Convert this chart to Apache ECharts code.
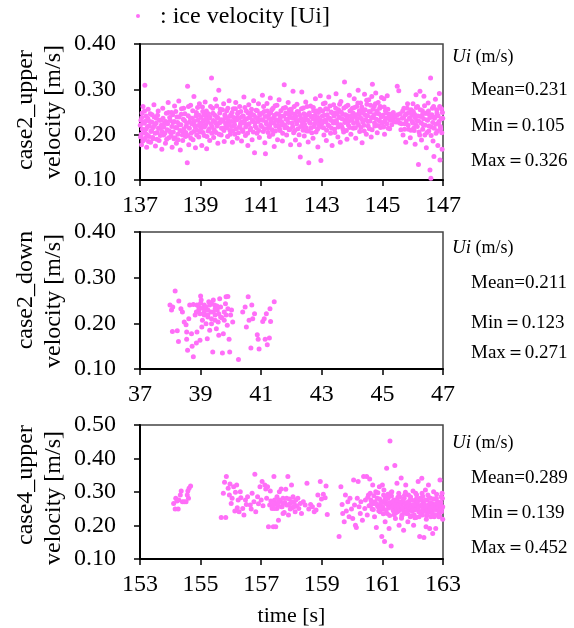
<!DOCTYPE html>
<html>
<head>
<meta charset="utf-8">
<script src="https://cdn.jsdelivr.net/npm/echarts@6/dist/echarts.min.js"></script>
<style>
  html, body { margin: 0; padding: 0; background: #fff; }
  #chart { width: 574px; height: 628px; }
</style>
</head>
<body>
<div id="chart"></div>
<script>
// case2_upper: [time s, velocity m/s]
const upper2 = [
  [137.02,0.195],[137.03,0.232],[137.05,0.178],[137.07,0.248],[137.08,0.212],[137.10,0.262],[137.12,0.188],[137.14,0.225],[137.16,0.309],[137.18,0.203],
  [137.20,0.241],[137.22,0.172],[137.25,0.218],[137.27,0.256],[137.30,0.196],[137.32,0.229],[137.35,0.183],[137.38,0.209],[137.40,0.244],[137.43,0.191],
  [137.46,0.266],[137.48,0.221],[137.51,0.175],[137.54,0.236],[137.57,0.205],[137.60,0.252],[137.63,0.187],[137.66,0.214],[137.69,0.232],[137.72,0.168],
  [137.75,0.258],[137.78,0.199],[137.81,0.226],[137.84,0.181],[137.87,0.247],[137.90,0.211],[137.93,0.271],[137.95,0.193],[137.98,0.238],
  [138.01,0.205],[138.04,0.249],[138.06,0.172],[138.09,0.227],[138.12,0.191],[138.14,0.263],[138.17,0.216],[138.20,0.181],[138.22,0.239],[138.25,0.201],
  [138.28,0.274],[138.30,0.222],[138.33,0.166],[138.36,0.245],[138.39,0.208],[138.41,0.187],[138.44,0.258],[138.47,0.231],[138.50,0.196],[138.53,0.219],
  [138.56,0.138],[138.57,0.307],[138.59,0.242],[138.61,0.178],[138.64,0.228],[138.67,0.265],[138.69,0.203],[138.72,0.236],[138.75,0.189],[138.78,0.284],
  [138.80,0.221],[138.83,0.171],[138.86,0.249],[138.88,0.210],[138.91,0.232],[138.94,0.195],[138.96,0.268],[138.99,0.225],
  [139.02,0.214],[139.04,0.176],[139.07,0.251],[139.09,0.230],[139.12,0.198],[139.15,0.272],[139.17,0.222],[139.20,0.169],[139.22,0.243],[139.25,0.208],
  [139.28,0.236],[139.30,0.187],[139.33,0.262],[139.36,0.325],[139.38,0.218],[139.41,0.247],[139.43,0.194],[139.46,0.229],[139.49,0.278],[139.51,0.205],
  [139.54,0.239],[139.57,0.181],[139.60,0.298],[139.62,0.226],[139.65,0.256],[139.68,0.199],[139.70,0.233],[139.73,0.214],[139.76,0.268],[139.78,0.185],
  [139.81,0.241],[139.84,0.221],[139.86,0.253],[139.89,0.196],[139.92,0.230],[139.94,0.275],[139.97,0.209],
  [140.00,0.244],[140.03,0.218],[140.05,0.183],[140.08,0.257],[140.11,0.229],[140.13,0.201],[140.16,0.271],[140.19,0.236],[140.21,0.192],[140.24,0.249],
  [140.27,0.216],[140.29,0.262],[140.32,0.225],[140.35,0.186],[140.37,0.240],[140.40,0.207],[140.43,0.283],[140.45,0.231],[140.48,0.198],[140.51,0.252],
  [140.53,0.222],[140.56,0.176],[140.59,0.266],[140.61,0.238],[140.64,0.211],[140.67,0.247],[140.70,0.189],[140.72,0.229],[140.75,0.275],[140.78,0.160],
  [140.80,0.219],[140.83,0.254],[140.86,0.203],[140.88,0.236],[140.91,0.268],[140.94,0.194],[140.96,0.244],[140.99,0.221],
  [141.02,0.233],[141.04,0.287],[141.07,0.207],[141.10,0.251],[141.12,0.182],[141.14,0.158],[141.16,0.228],[141.19,0.269],[141.22,0.214],[141.24,0.243],
  [141.27,0.196],[141.30,0.281],[141.32,0.226],[141.35,0.255],[141.38,0.201],[141.40,0.237],[141.43,0.174],[141.46,0.264],[141.48,0.219],[141.51,0.246],
  [141.54,0.189],[141.56,0.230],[141.59,0.277],[141.62,0.209],[141.64,0.241],[141.67,0.222],[141.70,0.186],[141.73,0.258],[141.76,0.310],[141.78,0.215],
  [141.81,0.248],[141.84,0.199],[141.86,0.234],[141.89,0.271],[141.92,0.211],[141.94,0.239],[141.97,0.178],[141.99,0.256],
  [142.02,0.226],[142.05,0.296],[142.07,0.204],[142.10,0.245],[142.13,0.188],[142.15,0.231],[142.18,0.267],[142.21,0.213],[142.23,0.250],[142.26,0.178],
  [142.29,0.151],[142.31,0.237],[142.34,0.294],[142.37,0.219],[142.39,0.259],[142.42,0.197],[142.45,0.233],[142.47,0.272],[142.50,0.208],[142.53,0.244],
  [142.55,0.184],[142.57,0.138],[142.60,0.227],[142.63,0.263],[142.65,0.215],[142.68,0.240],[142.71,0.192],[142.73,0.253],[142.76,0.224],[142.79,0.279],
  [142.81,0.206],[142.84,0.236],[142.87,0.173],[142.89,0.249],[142.92,0.229],[142.95,0.286],[142.97,0.143],[142.99,0.217],
  [143.02,0.241],[143.05,0.268],[143.07,0.199],[143.10,0.232],[143.13,0.257],[143.15,0.187],[143.18,0.244],[143.21,0.221],[143.23,0.283],[143.26,0.236],
  [143.29,0.203],[143.31,0.250],[143.34,0.176],[143.37,0.229],[143.39,0.266],[143.42,0.212],[143.45,0.247],[143.47,0.290],[143.50,0.225],[143.53,0.195],
  [143.55,0.255],[143.58,0.238],[143.61,0.183],[143.63,0.273],[143.66,0.218],[143.69,0.245],[143.72,0.206],[143.75,0.316],[143.77,0.233],[143.80,0.262],
  [143.83,0.190],[143.85,0.242],[143.88,0.221],[143.91,0.287],[143.93,0.252],[143.96,0.201],[143.99,0.236],
  [144.01,0.258],[144.04,0.214],[144.07,0.279],[144.09,0.240],[144.12,0.192],[144.15,0.262],[144.17,0.228],[144.20,0.298],[144.23,0.246],[144.25,0.207],
  [144.28,0.270],[144.31,0.235],[144.33,0.182],[144.36,0.254],[144.39,0.221],[144.41,0.289],[144.44,0.243],[144.47,0.201],[144.49,0.267],[144.52,0.229],
  [144.55,0.277],[144.57,0.213],[144.60,0.250],[144.63,0.195],[144.65,0.284],[144.67,0.311],[144.70,0.238],[144.73,0.262],[144.75,0.219],[144.78,0.292],
  [144.81,0.247],[144.83,0.204],[144.86,0.271],[144.89,0.231],[144.91,0.258],[144.94,0.216],[144.97,0.282],[144.99,0.240],
  [145.02,0.227],[145.05,0.279],[145.07,0.201],[145.10,0.253],[145.13,0.236],[145.16,0.286],[145.19,0.214],[145.22,0.245],[145.26,0.232],[145.31,0.222],
  [145.36,0.249],[145.40,0.238],[145.45,0.228],[145.49,0.307],[145.50,0.244],[145.54,0.297],[145.57,0.226],[145.61,0.211],[145.65,0.236],[145.68,0.199],
  [145.71,0.258],[145.74,0.224],[145.77,0.183],[145.80,0.246],[145.83,0.268],[145.86,0.212],[145.89,0.237],[145.92,0.193],[145.95,0.255],[145.98,0.229],
  [146.01,0.268],[146.03,0.214],[146.06,0.245],[146.08,0.179],[146.11,0.288],[146.13,0.231],[146.16,0.262],[146.19,0.134],[146.21,0.206],[146.24,0.296],
  [146.27,0.240],[146.29,0.188],[146.32,0.253],[146.35,0.222],[146.37,0.285],[146.40,0.199],[146.43,0.247],[146.45,0.171],[146.48,0.233],[146.51,0.270],
  [146.53,0.208],[146.55,0.244],[146.57,0.122],[146.59,0.325],[146.60,0.104],[146.62,0.217],[146.65,0.258],[146.67,0.186],[146.70,0.152],[146.72,0.236],
  [146.75,0.278],[146.77,0.203],[146.80,0.248],[146.83,0.176],[146.85,0.226],[146.88,0.291],[146.90,0.144],[146.92,0.213],[146.95,0.257],[146.97,0.168],
  [146.99,0.236],
  // dense core of the band
  [137.01,0.221],[137.04,0.201],[137.06,0.238],[137.09,0.186],[137.11,0.227],[137.13,0.209],[137.15,0.252],[137.17,0.192],[137.19,0.230],[137.21,0.213],
  [137.24,0.199],[137.26,0.236],[137.28,0.185],[137.31,0.219],[137.34,0.246],[137.36,0.207],[137.39,0.228],[137.42,0.194],[137.44,0.216],[137.47,0.239],
  [137.50,0.203],[137.53,0.225],[137.56,0.190],[137.58,0.243],[137.61,0.214],[137.64,0.232],[137.67,0.198],[137.70,0.221],[137.73,0.207],[137.76,0.236],
  [137.79,0.217],[137.82,0.203],[137.85,0.229],[137.88,0.190],[137.91,0.224],[137.94,0.249],[137.97,0.208],
  [138.00,0.231],[138.03,0.197],[138.05,0.218],[138.08,0.244],[138.10,0.206],[138.13,0.229],[138.16,0.193],[138.18,0.251],[138.21,0.215],[138.24,0.227],
  [138.26,0.189],[138.29,0.239],[138.32,0.209],[138.35,0.222],[138.37,0.257],[138.40,0.199],[138.43,0.234],[138.45,0.213],[138.48,0.246],[138.51,0.205],
  [138.54,0.226],[138.58,0.198],[138.60,0.262],[138.63,0.214],[138.66,0.237],[138.68,0.192],[138.71,0.224],[138.74,0.253],[138.77,0.207],[138.79,0.230],
  [138.82,0.217],[138.85,0.241],[138.87,0.199],[138.90,0.260],[138.93,0.220],[138.95,0.243],[138.98,0.206],
  [139.01,0.238],[139.03,0.223],[139.06,0.261],[139.08,0.205],[139.11,0.244],[139.13,0.217],[139.16,0.234],[139.19,0.252],[139.21,0.196],[139.23,0.228],
  [139.26,0.246],[139.29,0.213],[139.31,0.239],[139.34,0.224],[139.37,0.203],[139.40,0.258],[139.42,0.231],[139.45,0.211],[139.47,0.243],[139.50,0.226],
  [139.53,0.263],[139.55,0.219],[139.58,0.236],[139.61,0.201],[139.63,0.248],[139.66,0.228],[139.69,0.214],[139.72,0.255],[139.74,0.232],[139.77,0.209],
  [139.80,0.244],[139.82,0.226],[139.85,0.237],[139.88,0.215],[139.90,0.258],[139.93,0.222],[139.96,0.240],[139.98,0.201],
  [140.01,0.229],[140.04,0.249],[140.07,0.208],[140.09,0.238],[140.12,0.222],[140.15,0.257],[140.17,0.213],[140.20,0.233],[140.22,0.246],[140.25,0.204],
  [140.28,0.236],[140.30,0.219],[140.33,0.251],[140.36,0.228],[140.38,0.211],[140.41,0.241],[140.44,0.226],[140.46,0.260],[140.49,0.217],[140.52,0.235],
  [140.55,0.203],[140.57,0.248],[140.60,0.224],[140.63,0.239],[140.65,0.214],[140.68,0.256],[140.71,0.232],[140.74,0.206],[140.76,0.243],[140.79,0.227],
  [140.82,0.238],[140.84,0.215],[140.87,0.253],[140.90,0.229],[140.92,0.209],[140.95,0.246],[140.98,0.233],
  [141.01,0.218],[141.03,0.247],[141.06,0.232],[141.08,0.262],[141.11,0.213],[141.13,0.240],[141.17,0.224],[141.20,0.252],[141.23,0.205],[141.25,0.236],
  [141.28,0.219],[141.31,0.248],[141.33,0.230],[141.36,0.211],[141.39,0.258],[141.41,0.226],[141.44,0.243],[141.47,0.208],[141.49,0.233],[141.52,0.265],
  [141.55,0.221],[141.57,0.245],[141.60,0.214],[141.63,0.237],[141.65,0.253],[141.68,0.228],[141.71,0.203],[141.74,0.241],[141.77,0.222],[141.80,0.260],
  [141.82,0.234],[141.85,0.216],[141.88,0.246],[141.90,0.227],[141.93,0.255],[141.96,0.212],[141.98,0.238],
  [142.01,0.247],[142.04,0.218],[142.06,0.236],[142.09,0.262],[142.11,0.209],[142.14,0.240],[142.17,0.224],[142.19,0.251],[142.22,0.231],[142.25,0.200],
  [142.27,0.244],[142.30,0.218],[142.33,0.257],[142.35,0.228],[142.38,0.210],[142.41,0.246],[142.43,0.223],[142.46,0.239],[142.49,0.215],[142.51,0.262],
  [142.54,0.232],[142.56,0.208],[142.59,0.248],[142.62,0.225],[142.64,0.240],[142.67,0.204],[142.70,0.235],[142.72,0.260],[142.75,0.218],[142.78,0.243],
  [142.80,0.228],[142.83,0.252],[142.86,0.212],[142.88,0.238],[142.91,0.221],[142.94,0.256],[142.96,0.232],
  [143.01,0.226],[143.03,0.252],[143.06,0.215],[143.09,0.243],[143.11,0.270],[143.14,0.228],[143.16,0.210],[143.19,0.256],[143.22,0.237],[143.24,0.219],
  [143.27,0.263],[143.30,0.232],[143.32,0.214],[143.35,0.248],[143.38,0.226],[143.40,0.241],[143.43,0.205],[143.46,0.258],[143.48,0.231],[143.51,0.246],
  [143.54,0.217],[143.56,0.239],[143.59,0.267],[143.62,0.222],[143.64,0.250],[143.67,0.235],[143.70,0.212],[143.73,0.259],[143.76,0.227],[143.78,0.244],
  [143.81,0.209],[143.84,0.237],[143.86,0.265],[143.89,0.230],[143.92,0.216],[143.94,0.253],[143.97,0.241],
  [144.00,0.232],[144.03,0.248],[144.05,0.225],[144.08,0.260],[144.11,0.215],[144.13,0.244],[144.16,0.235],[144.19,0.270],[144.21,0.222],[144.24,0.253],
  [144.27,0.238],[144.29,0.216],[144.32,0.261],[144.35,0.228],[144.37,0.247],[144.40,0.208],[144.43,0.255],[144.45,0.233],[144.48,0.276],[144.51,0.242],
  [144.53,0.219],[144.56,0.251],[144.59,0.230],[144.61,0.265],[144.64,0.238],[144.66,0.211],[144.69,0.256],[144.72,0.244],[144.74,0.226],[144.77,0.268],
  [144.80,0.234],[144.82,0.252],[144.85,0.220],[144.88,0.246],[144.90,0.231],[144.93,0.262],[144.96,0.240],[144.98,0.225],
  [145.01,0.243],[145.04,0.217],[145.06,0.261],[145.09,0.232],[145.12,0.248],[145.15,0.224],[145.18,0.256],[145.21,0.238],[145.24,0.213],[145.28,0.245],
  [145.33,0.236],[145.38,0.229],[145.43,0.241],[145.52,0.233],[145.59,0.246],[145.63,0.224],[145.67,0.252],[145.70,0.238],[145.73,0.212],[145.76,0.244],
  [145.79,0.230],[145.82,0.258],[145.85,0.221],[145.88,0.249],[145.91,0.235],[145.94,0.210],[145.97,0.243],
  [146.00,0.226],[146.02,0.251],[146.05,0.209],[146.07,0.238],[146.10,0.222],[146.12,0.260],[146.15,0.218],[146.17,0.241],[146.20,0.230],[146.23,0.199],
  [146.25,0.255],[146.28,0.226],[146.31,0.243],[146.33,0.212],[146.36,0.235],[146.39,0.264],[146.41,0.221],[146.44,0.247],[146.47,0.205],[146.49,0.232],
  [146.52,0.252],[146.54,0.219],[146.58,0.238],[146.61,0.198],[146.63,0.244],[146.66,0.227],[146.69,0.262],[146.71,0.214],[146.74,0.239],[146.76,0.223],
  [146.79,0.255],[146.82,0.208],[146.84,0.242],[146.87,0.229],[146.89,0.262],[146.91,0.218],[146.94,0.235],[146.96,0.204],[146.98,0.249]
];

// case2_down
const down2 = [
  [38.16,0.271],[37.99,0.240],[38.04,0.229],[38.08,0.236],[38.28,0.249],[38.35,0.232],[38.07,0.182],[38.23,0.184],[38.27,0.160],[38.40,0.225],
  [38.46,0.203],[38.52,0.197],[38.54,0.181],[38.54,0.165],[38.57,0.141],[38.61,0.210],[38.64,0.240],[38.70,0.177],[38.72,0.150],[38.76,0.127],
  [38.76,0.241],[38.82,0.218],[38.86,0.157],[38.88,0.181],[38.94,0.236],[38.98,0.163],[39.00,0.260],[39.02,0.251],[39.06,0.207],[39.04,0.192],
  [39.12,0.240],[39.16,0.232],[39.18,0.199],[39.22,0.166],[39.24,0.218],[39.27,0.247],[39.30,0.185],[39.34,0.225],[39.36,0.199],[39.40,0.137],
  [39.42,0.251],[39.46,0.240],[39.48,0.218],[39.52,0.188],[39.55,0.229],[39.58,0.203],[39.60,0.174],[39.63,0.254],[39.66,0.236],[39.70,0.212],
  [39.72,0.135],[39.75,0.177],[39.78,0.225],[39.82,0.243],[39.84,0.258],[39.88,0.196],[39.90,0.259],[39.94,0.165],[39.96,0.137],[39.99,0.218],
  [40.02,0.229],[40.06,0.203],[40.25,0.121],[40.39,0.225],[40.47,0.236],[40.51,0.192],[40.57,0.258],[40.60,0.207],[40.66,0.146],[40.69,0.240],
  [40.72,0.210],[40.78,0.221],[40.87,0.175],[40.90,0.165],[40.93,0.144],[41.05,0.204],[41.10,0.210],[41.13,0.165],[41.17,0.221],[41.20,0.153],
  [41.27,0.168],[41.29,0.232],[41.31,0.204],[41.43,0.247],
  [38.88,0.240],[38.94,0.229],[39.00,0.244],[39.06,0.233],[39.12,0.225],[39.18,0.236],[39.24,0.229],[39.30,0.240],[39.36,0.244],[39.42,0.225],
  [39.48,0.232],[39.54,0.238],[39.12,0.218],[39.24,0.214],[39.36,0.210],[39.48,0.207],[39.60,0.221],[39.66,0.214],[39.78,0.207],[39.84,0.218],
  [39.90,0.232],[38.98,0.221],[38.86,0.225]
];

// case4_upper
const upper4 = [
  [154.11,0.266],[154.16,0.249],[154.26,0.249],[154.18,0.281],[154.22,0.273],[154.28,0.276],[154.33,0.291],[154.36,0.303],[154.40,0.271],[154.46,0.271],
  [154.52,0.271],[154.56,0.291],[154.58,0.303],[154.62,0.311],[154.67,0.318],[154.60,0.281],
  [155.68,0.224],[155.75,0.296],[155.79,0.329],[155.85,0.346],[155.83,0.224],[155.91,0.311],[155.95,0.291],[155.97,0.324],[156.01,0.266],[156.04,0.281],
  [156.09,0.316],[156.13,0.243],[156.15,0.299],[156.19,0.321],[156.21,0.253],[156.24,0.276],[156.27,0.241],[156.31,0.301],[156.33,0.283],[156.39,0.251],
  [156.43,0.231],[156.48,0.276],[156.51,0.263],[156.55,0.286],[156.64,0.261],[156.67,0.249],[156.70,0.296],[156.76,0.271],[156.79,0.353],[156.82,0.241],
  [156.88,0.286],[156.91,0.265],[156.96,0.316],[157.00,0.276],[157.03,0.331],[157.06,0.259],
  [157.12,0.321],[157.15,0.309],[157.18,0.281],[157.21,0.316],[157.24,0.196],[157.28,0.261],[157.30,0.303],[157.32,0.273],[157.36,0.251],[157.40,0.196],
  [157.42,0.346],[157.44,0.276],[157.48,0.196],[157.48,0.266],[157.52,0.286],[157.54,0.261],[157.57,0.216],[157.60,0.301],[157.63,0.273],[157.66,0.309],
  [157.69,0.256],[157.72,0.281],[157.76,0.239],[157.78,0.269],[157.81,0.308],[157.84,0.261],[157.88,0.346],[157.90,0.231],[157.93,0.279],[157.96,0.266],
  [158.00,0.321],[158.02,0.253],[158.05,0.286],[158.08,0.269],[158.12,0.241],[158.14,0.276],[158.17,0.259],[158.21,0.281],[158.24,0.251],[158.29,0.266],
  [158.33,0.236],[158.39,0.271],[158.45,0.261],[158.51,0.326],[158.57,0.249],[158.63,0.263],[158.69,0.256],[158.75,0.241],[158.81,0.246],[158.87,0.291],
  [158.91,0.261],[158.95,0.331],[158.99,0.279],[159.05,0.293],[159.11,0.283],[159.14,0.318],[159.18,0.233],
  [157.52,0.251],[157.60,0.276],[157.66,0.256],[157.72,0.266],[157.84,0.281],[157.90,0.261],[157.96,0.249],[158.02,0.271],[158.08,0.256],[157.57,0.269],
  [157.72,0.236],[157.40,0.263],[157.44,0.251],
  [159.57,0.167],[159.63,0.316],[159.67,0.263],[159.69,0.236],[159.74,0.211],[159.78,0.291],[159.81,0.243],[159.86,0.271],[159.90,0.226],[159.93,0.281],
  [159.98,0.249],[160.02,0.221],[160.05,0.336],[160.08,0.261],[160.11,0.201],[160.14,0.194],[160.17,0.281],[160.20,0.331],[160.23,0.256],[160.27,0.236],
  [160.29,0.271],[160.34,0.216],[160.38,0.346],[160.42,0.251],[160.44,0.276],[160.48,0.346],[160.50,0.231],[160.54,0.291],[160.56,0.259],[160.58,0.339],
  [160.62,0.276],[160.66,0.249],[160.68,0.321],[160.71,0.266],[160.74,0.226],[160.78,0.301],[160.80,0.194],[160.83,0.281],[160.86,0.256],[160.90,0.316],
  [160.92,0.241],[160.95,0.271],[160.98,0.167],[161.00,0.321],[161.02,0.249],[161.04,0.291],[161.07,0.152],[161.09,0.211],[161.10,0.266],[161.14,0.371],
  [161.16,0.236],[161.19,0.281],[161.22,0.191],[161.25,0.452],[161.26,0.261],[161.29,0.139],[161.31,0.301],[161.35,0.246],[161.38,0.276],[161.41,0.379],
  [161.43,0.221],[161.45,0.256],[161.48,0.326],[161.50,0.241],[161.53,0.271],[161.55,0.201],[161.57,0.286],[161.60,0.249],[161.62,0.342],[161.65,0.231],
  [161.67,0.266],[161.70,0.186],[161.72,0.281],[161.74,0.254],[161.77,0.321],[161.79,0.236],[161.82,0.269],[161.84,0.211],[161.86,0.291],[161.89,0.251],
  [161.91,0.276],[161.95,0.229],[161.99,0.261],[162.01,0.303],[162.03,0.201],[162.06,0.246],[162.08,0.274],[162.11,0.224],[162.13,0.291],[162.15,0.256],
  [162.18,0.331],[162.20,0.241],[162.23,0.167],[162.25,0.281],[162.28,0.261],[162.30,0.341],[162.32,0.231],[162.35,0.271],[162.37,0.164],[162.40,0.249],
  [162.42,0.306],[162.44,0.196],[162.47,0.276],[162.49,0.236],[162.52,0.321],[162.54,0.256],[162.56,0.191],[162.59,0.281],[162.61,0.244],[162.64,0.266],
  [162.66,0.176],[162.69,0.301],[162.71,0.226],[162.73,0.261],[162.76,0.191],[162.78,0.281],[162.81,0.246],[162.83,0.271],[162.86,0.226],[162.88,0.254],
  [162.90,0.336],[162.93,0.269],[162.95,0.241],[162.98,0.281],[162.99,0.256],
  [160.62,0.262],[160.70,0.248],[160.76,0.271],[160.84,0.258],[160.88,0.244],[160.94,0.265],[161.01,0.255],[161.06,0.273],[161.12,0.247],[161.17,0.262],
  [161.21,0.252],[161.27,0.268],[161.33,0.257],[161.37,0.243],[161.42,0.264],[161.46,0.251],[161.52,0.258],[161.56,0.245],[161.61,0.263],[161.66,0.252],
  [161.71,0.242],[161.75,0.266],[161.80,0.255],[161.85,0.246],[161.90,0.262],[161.94,0.251],[161.98,0.243],[162.04,0.259],[162.09,0.248],[162.14,0.265],
  [162.19,0.254],[162.24,0.242],[162.29,0.258],[162.34,0.249],[162.39,0.263],[162.43,0.253],[162.48,0.245],[162.53,0.261],[162.58,0.252],[162.62,0.240],
  [162.67,0.257],[162.72,0.248],[162.77,0.264],[162.82,0.254],[162.87,0.243],[162.92,0.259],[162.96,0.250],[161.03,0.235],[161.24,0.230],[161.44,0.238],
  [161.64,0.228],[161.83,0.236],[162.05,0.231],[162.26,0.238],[162.46,0.229],[162.65,0.236],[162.85,0.233],[161.09,0.282],[161.30,0.288],[161.51,0.284],
  [161.73,0.290],[161.93,0.285],[162.12,0.279],[162.33,0.287],[162.55,0.283],[162.75,0.278],[162.94,0.286],
  [160.52,0.284],[160.60,0.296],[160.64,0.272],[160.72,0.289],[160.79,0.264],[160.85,0.298],[160.91,0.279],[160.97,0.253],[161.05,0.306],[161.11,0.276],
  [161.18,0.293],[161.23,0.268],[161.28,0.298],[161.34,0.272],[161.39,0.232],[161.47,0.276],[161.54,0.296],[161.59,0.271],[161.63,0.222],[161.69,0.277],
  [161.76,0.299],[161.81,0.242],[161.87,0.271],[161.92,0.226],[161.97,0.276],[162.02,0.262],[162.07,0.223],[162.10,0.296],[162.16,0.271],[162.21,0.226],
  [162.27,0.276],[162.31,0.296],[162.36,0.242],[162.41,0.276],[162.45,0.219],[162.50,0.291],[162.57,0.268],[162.60,0.226],[162.68,0.279],[162.74,0.232],
  [162.79,0.293],[162.84,0.266],[162.89,0.228],[162.97,0.296],[162.99,0.219]
];

const caseNames = ['case2_upper', 'case2_down', 'case4_upper'];
const xRanges = [[137, 147], [37, 47], [153, 163]];
const xTickValues = [
  [137, 139, 141, 143, 145, 147],
  [37, 39, 41, 43, 45, 47],
  [153, 155, 157, 159, 161, 163]
];
const yRanges = [[0.1, 0.4], [0.1, 0.4], [0.1, 0.5]];
const statMean = ['0.231', '0.211', '0.289'];
const statMin = ['0.105', '0.123', '0.139'];
const statMax = ['0.326', '0.271', '0.452'];

const panelData = [upper2, down2, upper4];
const gridTops = [44, 232, 425];
const gridHeights = [136, 137, 134];
const statY = [[57, 90, 126, 161], [248, 283, 323, 353], [443, 478, 513, 548]];
const nameY = [[110, 112], [290, 301], [485, 498]];

const serif = '"Liberation Serif", "Times New Roman", serif';
const pink = '#ff6ef8';

const chart = echarts.init(document.getElementById('chart'));

const grids = [], xAxes = [], yAxes = [], series = [], graphics = [];

for (let i = 0; i < 3; i++) {
  grids.push({
    left: 140, top: gridTops[i], width: 303, height: gridHeights[i],
    show: true, borderColor: '#444', borderWidth: 1.5
  });
  xAxes.push({
    type: 'value', gridIndex: i, min: xRanges[i][0], max: xRanges[i][1],
    axisLine: { show: true, onZero: false, lineStyle: { color: '#000', width: 2 } },
    axisTick: { show: true, inside: false, length: 6, customValues: xTickValues[i], lineStyle: { color: '#000', width: 1.5 } },
    axisLabel: { customValues: xTickValues[i], color: '#000', fontFamily: serif, fontSize: 24, margin: 14 },
    splitLine: { show: false },
    name: i === 2 ? 'time [s]' : '',
    nameLocation: 'middle', nameGap: 46,
    nameTextStyle: { color: '#000', fontFamily: serif, fontSize: 22 }
  });
  yAxes.push({
    type: 'value', gridIndex: i, min: yRanges[i][0], max: yRanges[i][1], interval: 0.1,
    axisLine: { show: true, onZero: false, lineStyle: { color: '#000', width: 2 } },
    axisTick: { show: true, inside: false, length: 6, lineStyle: { color: '#000', width: 1.5 } },
    axisLabel: { color: '#000', fontFamily: serif, fontSize: 24, margin: 24, formatter: v => v.toFixed(2) },
    splitLine: { show: false }
  });
  series.push({
    name: 'ice velocity [Ui]', type: 'scatter', xAxisIndex: i, yAxisIndex: i,
    data: panelData[i], symbolSize: 5,
    itemStyle: { color: pink, opacity: 1 },
    emphasis: { disabled: true }
  });

  // y axis titles (two lines, rotated)
  graphics.push({
    type: 'text', x: 26, y: nameY[i][0], rotation: Math.PI / 2,
    style: { text: caseNames[i], font: '24px ' + serif, fill: '#000', align: 'center', verticalAlign: 'middle' }
  });
  graphics.push({
    type: 'text', x: 54, y: nameY[i][1], rotation: Math.PI / 2,
    style: { text: 'velocity [m/s]', font: '24px ' + serif, fill: '#000', align: 'center', verticalAlign: 'middle' }
  });

  // stats on the right
  graphics.push({
    type: 'text', x: 452, y: statY[i][0],
    style: {
      text: '{it|Ui} (m/s)', fill: '#000', verticalAlign: 'middle', font: '18px ' + serif,
      rich: { it: { fontFamily: serif, fontSize: 19, fontStyle: 'italic', fill: '#000' } }
    }
  });
  graphics.push({
    type: 'text', x: 471, y: statY[i][1],
    style: { text: 'Mean=' + statMean[i], font: '19px ' + serif, fill: '#000', verticalAlign: 'middle' }
  });
  graphics.push({
    type: 'text', x: 471, y: statY[i][2],
    style: { text: 'Min\uFF1D' + statMin[i], font: '19px ' + serif, fill: '#000', verticalAlign: 'middle' }
  });
  graphics.push({
    type: 'text', x: 471, y: statY[i][3],
    style: { text: 'Max\uFF1D' + statMax[i], font: '19px ' + serif, fill: '#000', verticalAlign: 'middle' }
  });
}

// legend marker and label at the top
graphics.push({
  type: 'circle', shape: { cx: 138, cy: 16, r: 2 },
  style: { fill: pink }
});
graphics.push({
  type: 'text', x: 160, y: 17,
  style: { text: ': ice velocity [Ui]', font: '24px ' + serif, fill: '#000', verticalAlign: 'middle' }
});

chart.setOption({
  animation: false,
  backgroundColor: '#fff',
  grid: grids,
  xAxis: xAxes,
  yAxis: yAxes,
  series: series,
  graphic: graphics
});
</script>
</body>
</html>
